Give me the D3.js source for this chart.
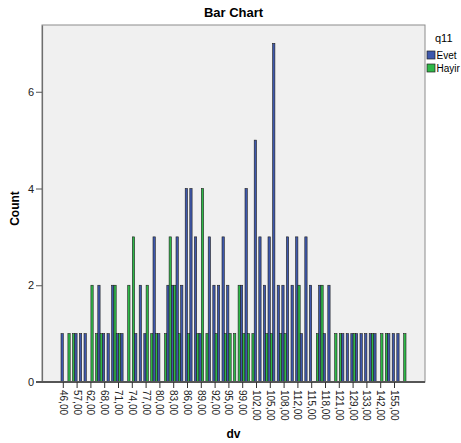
<!DOCTYPE html>
<html>
<head>
<meta charset="utf-8">
<script src="https://cdn.jsdelivr.net/npm/d3@7"></script>
<style>
	body { margin: 0; background: #fff; }
	svg { display: block; font-family: "Liberation Sans", Arial, sans-serif; }
</style>
</head>
<body>
<div id="container"><svg></svg></div>
<script>
const WIDTH = 461;
const HEIGHT = 443;
const COLORS = ["#3e58ac", "#2eb848"]; // evet, hayir

// DATA
let groups = ["Evet", "Hayir"];
let dv = [46, 50, 54, 57, 59, 60, 62, 64, 66, 68, 69, 70, 71, 72, 73, 74, 75, 76, 77, 78,
	79, 80, 81, 82, 83, 84, 85, 86, 87, 88, 89, 90, 91, 92, 93, 94, 95, 97, 98, 99,
	100, 101, 102, 103, 104, 105, 106, 107, 108, 110, 111, 112, 113, 114, 115, 116, 117, 118, 119, 120,
	121, 125, 127, 129, 130, 132, 133, 136, 140, 142, 145, 150, 155, 160, 170];
let evet = [1, 0, 0, 1, 1, 1, 0, 0, 2, 1, 1, 2, 1, 1, 0, 0, 1, 2, 1, 0,
	3, 1, 0, 2, 2, 3, 2, 4, 4, 3, 1, 0, 3, 2, 2, 3, 2, 0, 0, 2,
	4, 0, 5, 3, 2, 3, 7, 2, 2, 3, 2, 3, 1, 3, 2, 0, 2, 1, 2, 0,
	0, 1, 1, 1, 1, 1, 1, 1, 1, 0, 0, 1, 1, 1, 0];
let hayir = [0, 1, 1, 0, 0, 0, 2, 1, 1, 0, 0, 2, 1, 0, 2, 3, 0, 0, 2, 1,
	1, 0, 1, 3, 2, 1, 0, 1, 0, 1, 4, 1, 0, 1, 0, 1, 1, 1, 2, 1,
	1, 1, 0, 0, 1, 1, 0, 1, 1, 0, 0, 2, 0, 0, 0, 1, 2, 0, 0, 1,
	1, 0, 0, 1, 0, 0, 0, 1, 0, 1, 1, 0, 0, 0, 1];
let labelled = [46, 57, 62, 68, 71, 74, 77, 80, 83, 86, 89, 92, 95, 99, 102, 105, 108, 112, 115, 118, 121, 129, 133, 142, 155];
let yTicks = [0, 2, 4, 6];

// LAYOUT
let plot = { left: 42, top: 25, right: 425, bottom: 382 };

let svg = d3.select("svg").attr("width", WIDTH).attr("height", HEIGHT);

// SCALES
let x = d3.scaleBand().domain(dv).range([61, 406]);
let y = d3.scaleLinear().domain([0, 7.38]).range([plot.bottom, plot.top]);
let color = d3.scaleOrdinal().domain(groups).range(COLORS);
let fmt = d => d3.format(".2f")(d).replace(".", ",");

let rows = dv.map((d, i) => ({ dv: d, values: [{ g: "Evet", n: evet[i] }, { g: "Hayir", n: hayir[i] }] }));

// plot background
svg.append("rect")
.attr("x", plot.left)
.attr("y", plot.top)
.attr("width", plot.right - plot.left)
.attr("height", plot.bottom - plot.top)
.attr("fill", "#f0f0f0")
.attr("stroke", "#8c8c8c")
.attr("stroke-width", 1);

// bars
let half = x.bandwidth() / 2;
svg.append("g")
.selectAll("g")
.data(rows)
.enter()
.append("g")
.attr("transform", d => `translate(${x(d.dv)},0)`)
.selectAll("rect")
.data(d => d.values.filter(v => v.n > 0))
.enter()
.append("rect")
.attr("x", d => d.g == "Evet" ? 0 : half)
.attr("y", d => y(d.n))
.attr("width", half)
.attr("height", d => y(0) - y(d.n))
.attr("fill", d => color(d.g))
.attr("stroke", "#1e1e1e")
.attr("stroke-width", 0.6);

// y axis
let yAxis = svg.append("g")
.attr("transform", `translate(${plot.left},0)`)
.call(d3.axisLeft(y).tickValues(yTicks).tickFormat(d3.format("d")).tickSize(6).tickSizeOuter(0).tickPadding(2));
yAxis.select(".domain").attr("stroke", "#6e6e6e").attr("stroke-width", 1.2);
yAxis.selectAll(".tick line").attr("stroke", "#555");
yAxis.selectAll("text").attr("font-size", 11).attr("fill", "#222").attr("font-family", null);

// x axis
let xAxis = svg.append("g")
.attr("transform", `translate(0,${plot.bottom})`)
.call(d3.axisBottom(x).tickValues(labelled).tickFormat(fmt).tickSize(6).tickSizeOuter(0));
xAxis.select(".domain").attr("d", `M${plot.left - 6},0H${plot.right}`).attr("stroke", "#555").attr("stroke-width", 2);
xAxis.selectAll(".tick line").attr("stroke", "#333");
xAxis.selectAll("text")
.attr("font-size", 10)
.attr("font-family", null)
.attr("fill", "#222")
.attr("text-anchor", "start")
.attr("transform", "rotate(90)")
.attr("x", 8)
.attr("y", 0)
.attr("dy", "0.35em");

// titles
svg.append("text")
.attr("x", (plot.left + plot.right) / 2)
.attr("y", 17)
.attr("text-anchor", "middle")
.attr("font-size", 13)
.attr("font-weight", "bold")
.text("Bar Chart");

svg.append("text")
.attr("transform", `translate(19,${(plot.top + plot.bottom) / 2 + 5}) rotate(-90)`)
.attr("text-anchor", "middle")
.attr("font-size", 12)
.attr("font-weight", "bold")
.text("Count");

svg.append("text")
.attr("x", (plot.left + plot.right) / 2)
.attr("y", 438)
.attr("text-anchor", "middle")
.attr("font-size", 12)
.attr("font-weight", "bold")
.text("dv");

// legend
let legend = svg.append("g").attr("transform", "translate(427,0)");
legend.append("text")
.attr("x", 8)
.attr("y", 42)
.attr("font-size", 11)
.text("q11");

let item = legend.selectAll(".item")
.data(groups)
.enter()
.append("g")
.attr("class", "item")
.attr("transform", (d, i) => `translate(0,${51 + i * 13})`);

item.append("rect")
.attr("width", 8)
.attr("height", 8)
.attr("fill", d => color(d))
.attr("stroke", "#222")
.attr("stroke-width", 0.7);

item.append("text")
.attr("x", 9.5)
.attr("y", 7.5)
.attr("font-size", 10)
.text(d => d);
</script>
</body>
</html>
